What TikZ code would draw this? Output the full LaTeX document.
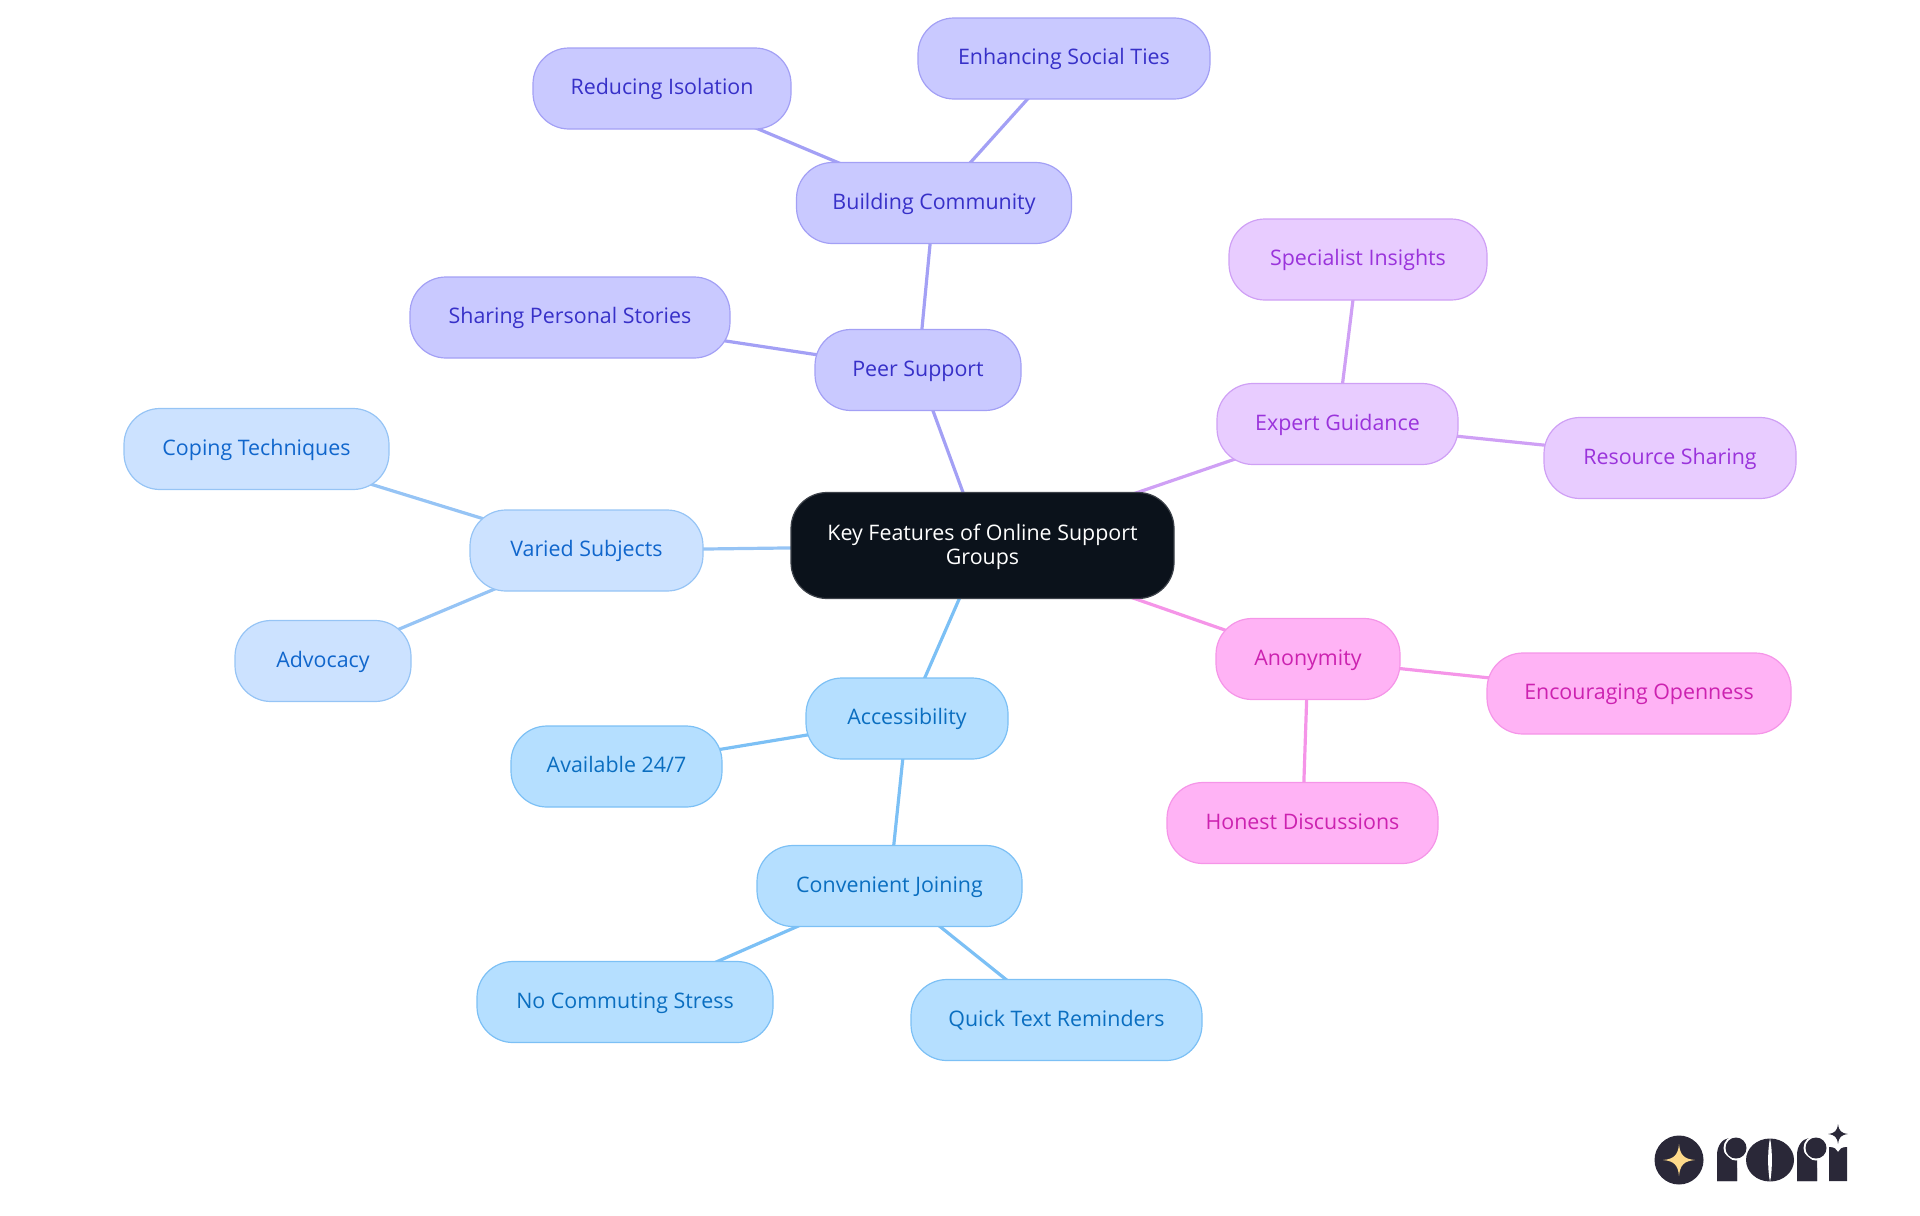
\documentclass[tikz,border=0pt]{standalone}
\usepackage{fontspec}
\setmainfont{Open Sans}
\usepackage{xcolor}
\usetikzlibrary{backgrounds}
\definecolor{peerfill}{HTML}{C9C9FF}
\definecolor{peerline}{HTML}{A3A0F5}
\definecolor{peertext}{HTML}{3730C8}
\definecolor{expertfill}{HTML}{E8CCFF}
\definecolor{expertline}{HTML}{CFA0F5}
\definecolor{experttext}{HTML}{9A33DB}
\definecolor{anonfill}{HTML}{FFB3F5}
\definecolor{anonline}{HTML}{F595E8}
\definecolor{anontext}{HTML}{CC22B0}
\definecolor{variedfill}{HTML}{CCE2FF}
\definecolor{variedline}{HTML}{96C4F5}
\definecolor{variedtext}{HTML}{1066CC}
\definecolor{accessfill}{HTML}{B5DFFF}
\definecolor{accessline}{HTML}{7CC0F5}
\definecolor{accesstext}{HTML}{0A6EC0}
\definecolor{rootfill}{HTML}{0B121B}
\definecolor{logodark}{HTML}{2A2838}
\definecolor{logostar}{HTML}{FDD98A}

\begin{document}
\begin{tikzpicture}[x=.5pt,y=-.5pt,font=\fontsize{10.7}{12.2}\selectfont,
    topic/.style={draw,line width=.6pt,rounded corners=18pt,minimum height=40.5pt,
      inner sep=0pt,align=center,text height=8.5pt,text depth=2.5pt},
    peernode/.style={topic,fill=peerfill,draw=peerline,text=peertext},
    expertnode/.style={topic,fill=expertfill,draw=expertline,text=experttext},
    anonnode/.style={topic,fill=anonfill,draw=anonline,text=anontext},
    variednode/.style={topic,fill=variedfill,draw=variedline,text=variedtext},
    accessnode/.style={topic,fill=accessfill,draw=accessline,text=accesstext},
    peeredge/.style={draw=peerline,line width=1.6pt},
    expertedge/.style={draw=expertline,line width=1.6pt},
    anonedge/.style={draw=anonline,line width=1.6pt},
    variededge/.style={draw=variedline,line width=1.6pt},
    accessedge/.style={draw=accessline,line width=1.6pt}]
    \useasboundingbox (0,0) rectangle (1920,1215);

    \node[topic,fill=rootfill,draw=rootfill!80!white,text=white,minimum width=191.5pt,
      minimum height=53pt,text height=20.7pt,text depth=1.3pt] (root) at (982.5,545.5)
      {Key Features of Online Support\\Groups};

    \node[peernode,minimum width=103pt] (peer) at (918,370) {Peer Support};
    \node[peernode,minimum width=137.5pt] (building) at (934,203) {Building Community};
    \node[peernode,minimum width=129pt] (isolation) at (662,88.5) {Reducing Isolation};
    \node[peernode,minimum width=146pt] (ties) at (1064,58.5) {Enhancing Social Ties};
    \node[peernode,minimum width=160pt] (stories) at (570,317.5) {Sharing Personal Stories};

    \node[expertnode,minimum width=120.5pt] (expert) at (1337.5,424) {Expert Guidance};
    \node[expertnode,minimum width=129pt] (insights) at (1358,259.5) {Specialist Insights};
    \node[expertnode,minimum width=126pt] (sharing) at (1670,458) {Resource Sharing};

    \node[anonnode,minimum width=92pt] (anon) at (1308,659) {Anonymity};
    \node[anonnode,minimum width=152pt] (openness) at (1639,693.5) {Encouraging Openness};
    \node[anonnode,minimum width=135.5pt] (honest) at (1302.5,823) {Honest Discussions};

    \node[variednode,minimum width=116.5pt] (varied) at (586.5,550.5) {Varied Subjects};
    \node[variednode,minimum width=132.5pt] (coping) at (256.5,449) {Coping Techniques};
    \node[variednode,minimum width=88pt] (advocacy) at (323,661) {Advocacy};

    \node[accessnode,minimum width=101pt] (access) at (907,718.5) {Accessibility};
    \node[accessnode,minimum width=105.5pt] (available) at (616.5,766.5) {Available 24/7};
    \node[accessnode,minimum width=132.5pt] (joining) at (889.5,886) {Convenient Joining};
    \node[accessnode,minimum width=148pt] (commuting) at (625,1002) {No Commuting Stress};
    \node[accessnode,minimum width=145.5pt] (reminders) at (1056.5,1020) {Quick Text Reminders};

    \begin{scope}[on background layer]
      \draw[peeredge] (root.center) -- (peer.center);
      \draw[peeredge] (peer.center) -- (building.center);
      \draw[peeredge] (peer.center) -- (stories.center);
      \draw[peeredge] (building.center) -- (isolation.center);
      \draw[peeredge] (building.center) -- (ties.center);
      \draw[expertedge] (root.center) -- (expert.center);
      \draw[expertedge] (expert.center) -- (insights.center);
      \draw[expertedge] (expert.center) -- (sharing.center);
      \draw[anonedge] (root.center) -- (anon.center);
      \draw[anonedge] (anon.center) -- (openness.center);
      \draw[anonedge] (anon.center) -- (honest.center);
      \draw[variededge] (root.center) -- (varied.center);
      \draw[variededge] (varied.center) -- (coping.center);
      \draw[variededge] (varied.center) -- (advocacy.center);
      \draw[accessedge] (root.center) -- (access.center);
      \draw[accessedge] (access.center) -- (available.center);
      \draw[accessedge] (access.center) -- (joining.center);
      \draw[accessedge] (joining.center) -- (commuting.center);
      \draw[accessedge] (joining.center) -- (reminders.center);
    \end{scope}

    % logo
    \fill[logodark] (1679,1160) circle [radius=24.5];
    \fill[logostar] (1679,1144) .. controls (1680,1155) and (1684,1159) .. (1695,1160)
      .. controls (1684,1161) and (1680,1165) .. (1679,1176)
      .. controls (1678,1165) and (1674,1161) .. (1663,1160)
      .. controls (1674,1159) and (1678,1155) .. (1679,1144) -- cycle;
    \foreach \rx in {0,80}{
      \fill[logodark] (1717+\rx,1181) -- (1717+\rx,1155)
        .. controls (1717+\rx,1146) and (1722+\rx,1139) .. (1729+\rx,1138)
        -- (1737+\rx,1160) -- (1737+\rx,1181) -- cycle;
      \fill[white] (1736+\rx,1148) circle [radius=12.5];
      \fill[logodark] (1737+\rx,1181) -- (1717+\rx,1181) -- (1717+\rx,1155) -- (1723+\rx,1150)
        .. controls (1725+\rx,1158) and (1737+\rx,1160) .. (1737+\rx,1168) -- cycle;
      \fill[logodark] (1736+\rx,1148) circle [radius=10.5];
    }
    \fill[logodark] (1770,1160) ellipse [x radius=24,y radius=21.5];
    \fill[white] (1770,1138) .. controls (1767.5,1150) and (1767.5,1170) .. (1770,1182)
      .. controls (1772.5,1170) and (1772.5,1150) .. (1770,1138) -- cycle;
    \fill[logodark] (1829,1181) -- (1829,1147) .. controls (1835,1147) and (1836,1149) .. (1838,1152)
      .. controls (1840,1149) and (1841,1147) .. (1847,1147) -- (1847,1181) -- cycle;
    \fill[logodark] (1838,1124) .. controls (1839,1131) and (1841,1133) .. (1848,1134)
      .. controls (1841,1135) and (1839,1137) .. (1838,1144)
      .. controls (1837,1137) and (1835,1135) .. (1828,1134)
      .. controls (1835,1133) and (1837,1131) .. (1838,1124) -- cycle;
  \end{tikzpicture}
\end{document}
